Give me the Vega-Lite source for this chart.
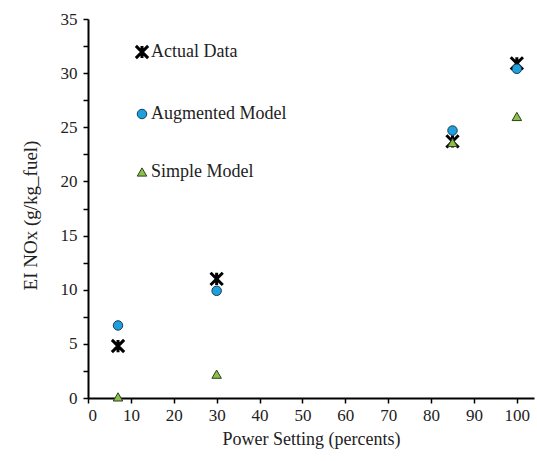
{
  "$schema": "https://vega.github.io/schema/vega-lite/v6.json",
  "width": 446,
  "height": 379,
  "autosize": {"type": "none"},
  "padding": {"left": 88, "top": 19, "right": 3, "bottom": 63},
  "background": "white",
  "config": {
    "view": {"stroke": null},
    "font": "Liberation Serif",
    "axis": {
      "grid": false,
      "domainColor": "#000",
      "domainWidth": 2,
      "tickColor": "#000",
      "tickWidth": 1.5,
      "tickSize": 5,
      "labelFont": "Liberation Serif",
      "labelFontSize": 17,
      "labelColor": "#222",
      "titleFont": "Liberation Serif",
      "titleFontSize": 18,
      "titleFontWeight": "normal",
      "titleColor": "#222"
    },
    "legend": {
      "orient": "none", "legendX": 45, "legendY": 24,
      "labelFont": "Liberation Serif", "labelFontSize": 18, "labelColor": "#222",
      "rowPadding": 40, "labelOffset": 0
    }
  },
  "data": {
    "values": [
      {"power": 7, "ei": 4.8, "series": "Actual Data"},
      {"power": 30, "ei": 11.0, "series": "Actual Data"},
      {"power": 85, "ei": 23.7, "series": "Actual Data"},
      {"power": 100, "ei": 30.9, "series": "Actual Data"},
      {"power": 7, "ei": 6.7, "series": "Augmented Model"},
      {"power": 30, "ei": 9.9, "series": "Augmented Model"},
      {"power": 85, "ei": 24.7, "series": "Augmented Model"},
      {"power": 100, "ei": 30.4, "series": "Augmented Model"},
      {"power": 7, "ei": 0.1, "series": "Simple Model"},
      {"power": 30, "ei": 2.2, "series": "Simple Model"},
      {"power": 85, "ei": 23.6, "series": "Simple Model"},
      {"power": 100, "ei": 26.0, "series": "Simple Model"}
    ]
  },
  "mark": {"type": "point", "filled": true, "opacity": 1},
  "encoding": {
    "x": {
      "field": "power", "type": "quantitative",
      "scale": {"domain": [0, 104], "nice": false, "zero": false},
      "axis": {"values": [0,10,20,30,40,50,60,70,80,90,100], "title": "Power Setting (percents)", "titlePadding": 7, "labelPadding": 4}
    },
    "y": {
      "field": "ei", "type": "quantitative",
      "scale": {"domain": [0, 35], "nice": false},
      "axis": {"values": [0,2.5,5,7.5,10,12.5,15,17.5,20,22.5,25,27.5,30,32.5,35], "labelExpr": "datum.value % 5 === 0 ? datum.label : ''", "title": "EI NOx (g/kg_fuel)", "titleFontSize": 19, "titleY": 196, "titlePadding": 20, "labelPadding": 6}
    },
    "shape": {
      "field": "series", "type": "nominal", "title": null,
      "scale": {"domain": ["Actual Data", "Augmented Model", "Simple Model"], "range": ["M-1,-1L1,1M-1,1L1,-1M0,-1L0,1", "circle", "triangle-up"]}
    },
    "fill": {
      "field": "series", "type": "nominal", "title": null,
      "scale": {"domain": ["Actual Data", "Augmented Model", "Simple Model"], "range": ["#000000", "#1ea0dc", "#8cc04a"]}
    },
    "stroke": {
      "field": "series", "type": "nominal", "title": null,
      "scale": {"domain": ["Actual Data", "Augmented Model", "Simple Model"], "range": ["#000000", "#1a3a55", "#2f3f1f"]}
    },
    "strokeWidth": {
      "field": "series", "type": "nominal", "title": null,
      "scale": {"type": "ordinal", "domain": ["Actual Data", "Augmented Model", "Simple Model"], "range": [3, 1, 1]}
    },
    "size": {
      "field": "series", "type": "nominal", "title": null,
      "scale": {"type": "ordinal", "domain": ["Actual Data", "Augmented Model", "Simple Model"], "range": [150, 90, 90]}
    }
  }
}
